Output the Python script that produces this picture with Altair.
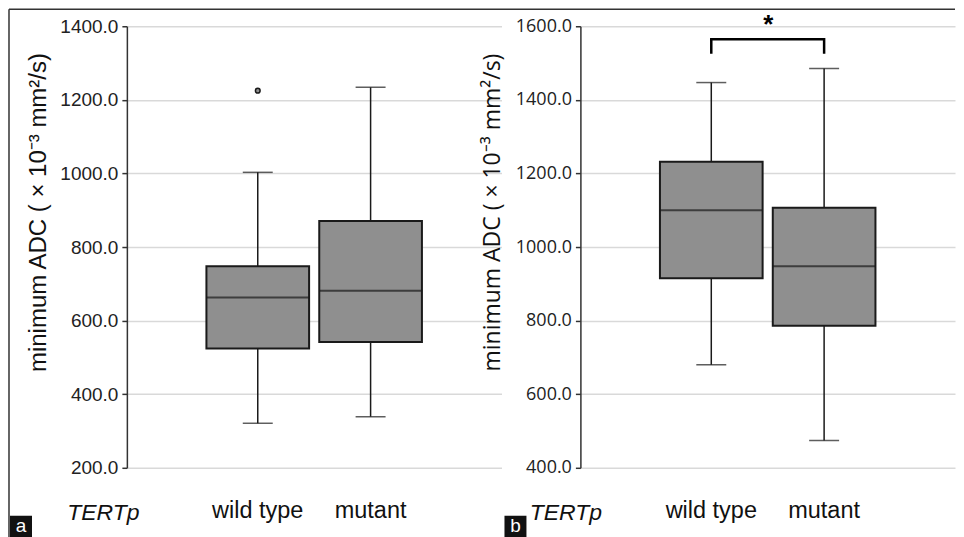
import altair as alt
import pandas as pd

groups = ["wild type", "mutant"]

# Panel a
a_min = [321, 339]
a_q1 = [524, 542]
a_med = [663, 681]
a_q3 = [748, 871]
a_max = [1003, 1234]
a_out_group = ["wild type"]
a_out_val = [1225]

# Panel b
b_min = [680, 474]
b_q1 = [915, 786]
b_med = [1100, 948]
b_q3 = [1232, 1107]
b_max = [1447, 1485]

# significance bracket (panel b)
br_group = ["wild type", "wild type", "mutant", "mutant"]
br_val = [1525, 1565, 1565, 1525]
br_order = [0, 1, 2, 3]

a_ticks = [200, 400, 600, 800, 1000, 1200, 1400]
b_ticks = [400, 600, 800, 1000, 1200, 1400, 1600]

YTITLE = "minimum ADC ( \u00d7 10\u207b\u00b3 mm\u00b2/s)"
FONT = "Liberation Sans"
BOXFILL = "#8f8f8f"
DARK = "#1a1a1a"


def panel(mins, q1s, meds, q3s, maxs, domain, ticks, width, tert_x, font, label_size, title_size,
          out=None, bracket=None, frame=False, letter="a", letter_x=-117):
    df = pd.DataFrame({"group": groups, "min": mins, "q1": q1s, "med": meds, "q3": q3s, "max": maxs})
    xenc = alt.X(
        "group:N", sort=groups,
        scale=alt.Scale(paddingInner=0.09, paddingOuter=0.705),
        axis=alt.Axis(title="TERTp", titleFontStyle="italic", titleFont=FONT, titleFontSize=23,
                      titleFontWeight="normal", titleColor="#111", titleX=tert_x, titleY=45,
                      titleAlign="center", titleBaseline="middle", titleAngle=0,
                      labelAngle=0, domain=False, ticks=False, grid=False, labelFont=FONT,
                      labelFontSize=23.5, labelPadding=31, labelColor="#111"),
    )
    yscale = alt.Scale(domain=domain, nice=False, zero=False)
    yaxis = alt.Axis(values=ticks, format=".1f", grid=True, gridColor="#d9d9d9", gridWidth=1.5,
                     domainColor="#333", domainWidth=1.5, tickColor="#333", tickWidth=1.5, tickSize=5,
                     labelPadding=4, labelFont=font, labelFontSize=label_size, labelColor="#222",
                     title=YTITLE, titleFont=font, titleFontSize=title_size, titleFontWeight="normal",
                     titleColor="#111", titleX=-81, titleY=186, titleAngle=270,
                     titleAlign="center", titleBaseline="alphabetic")

    def Y(field):
        return alt.Y(field, scale=yscale, axis=yaxis)

    base = alt.Chart(df)
    lo = base.mark_rule(color=DARK, strokeWidth=1.5).encode(x=xenc, y=Y("min:Q"), y2="q1:Q")
    hi = base.mark_rule(color=DARK, strokeWidth=1.5).encode(x=xenc, y=Y("q3:Q"), y2="max:Q")
    cap_lo = base.mark_tick(color=DARK, size=30, thickness=1.5, orient="horizontal").encode(
        x=xenc, y=Y("min:Q"))
    cap_hi = base.mark_tick(color=DARK, size=30, thickness=1.5, orient="horizontal").encode(
        x=xenc, y=Y("max:Q"))
    box = base.mark_bar(color=BOXFILL, stroke=DARK, strokeWidth=2).encode(
        x=xenc, y=Y("q1:Q"), y2="q3:Q")
    med = base.mark_tick(color=DARK, size=103, thickness=2, orient="horizontal").encode(
        x=xenc, y=Y("med:Q"))
    layers = [lo, hi, cap_lo, cap_hi, box, med]
    if out is not None:
        odf = pd.DataFrame({"group": out[0], "val": out[1]})
        layers.append(alt.Chart(odf).mark_point(shape="circle", filled=True, fill="#8f8f8f",
                                                stroke=DARK, strokeWidth=1.5, size=22, opacity=1).encode(
            x=xenc, y=Y("val:Q")))
    if bracket is not None:
        bdf = pd.DataFrame({"group": bracket[0], "val": bracket[1], "ord": bracket[2]})
        layers.append(alt.Chart(bdf).mark_line(color="#000", strokeWidth=2.5, clip=False).encode(
            x=xenc, y=Y("val:Q"), order="ord:Q"))
        sdf = pd.DataFrame({"group": ["wild type"], "val": [1603], "t": ["*"]})
        layers.append(alt.Chart(sdf).mark_text(fontSize=26, fontWeight="bold", font=FONT, dx=57,
                                               baseline="middle", color="#000").encode(
            x=xenc, y=Y("val:Q"), text="t:N"))
    one = alt.Data(values=[{"k": 1}])
    if frame:
        layers.append(alt.Chart(one).mark_rule(color="#333", strokeWidth=1.5).encode(
            x=alt.value(-118), y=alt.value(-17), y2=alt.value(512)))
        layers.append(alt.Chart(one).mark_rule(color="#333", strokeWidth=1.5).encode(
            x=alt.value(-118), x2=alt.value(829), y=alt.value(-17)))
    layers.append(alt.Chart(one).mark_rect(color="#111").encode(
        x=alt.value(letter_x), x2=alt.value(letter_x + 22), y=alt.value(490), y2=alt.value(512)))
    layers.append(alt.Chart(one).mark_text(color="white", fontSize=19, font=FONT, baseline="middle",
                                           align="center").encode(
        x=alt.value(letter_x + 11), y=alt.value(500), text=alt.value(letter)))
    return alt.layer(*layers).properties(width=width, height=442)


pa = panel(a_min, a_q1, a_med, a_q3, a_max, [200, 1400], a_ticks, 375, -24, FONT, 19, 24,
           out=(a_out_group, a_out_val), frame=True, letter="a", letter_x=-117)
pb = panel(b_min, b_q1, b_med, b_q3, b_max, [400, 1600], b_ticks, 375, -15, "Open Sans", 18, 23,
           bracket=(br_group, br_val, br_order), letter="b", letter_x=-76)

chart = alt.hconcat(pa, pb, spacing=79, bounds="flush").properties(
    padding={"left": 0, "top": 0, "right": 0, "bottom": 0}
).configure(background="white").configure_view(stroke=None)

chart.save("out.html", embed_options={"renderer": "svg", "actions": False})
